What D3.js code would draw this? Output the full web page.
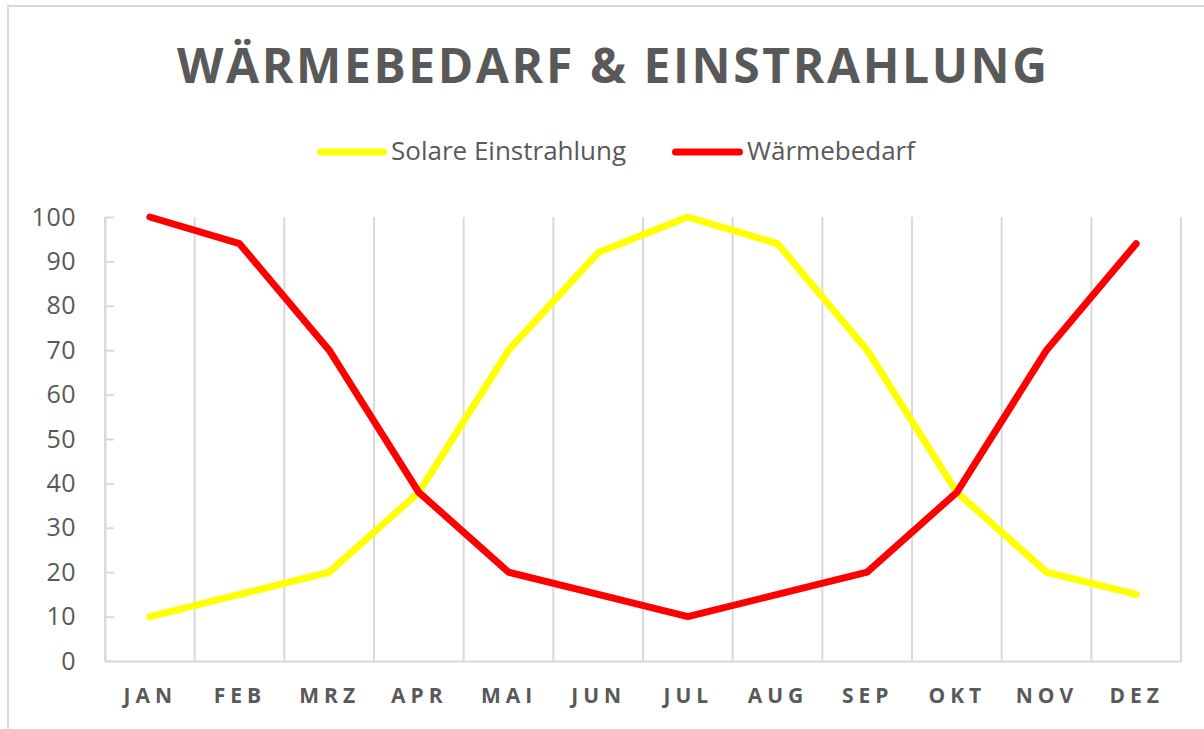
<!DOCTYPE html>
<html><head><meta charset="utf-8">
<script src="https://cdn.jsdelivr.net/npm/d3@7"></script>
<style>html,body{margin:0;padding:0;background:#fff;}svg{display:block;}</style>
</head><body>
<script>
const months = ["JAN","FEB","MRZ","APR","MAI","JUN","JUL","AUG","SEP","OKT","NOV","DEZ"];
const solar = [10,15,20,38,70,92,100,94,70,38,20,15];
const heat = [100,94,70,38,20,15,10,15,20,38,70,94];
const yTicks = [0,10,20,30,40,50,60,70,80,90,100];
const titleText = "WÄRMEBEDARF & EINSTRAHLUNG";
const seriesNames = ["Solare Einstrahlung","Wärmebedarf"];
const seriesColors = ["#ffff00","#ff0000"];

const W = 1204, H = 729;
const svg = d3.select("body").append("svg").attr("width",W).attr("height",H);
const txt = "#595959", grid = "#d9d9d9";

svg.append("rect").attr("x",8).attr("y",6).attr("width",W+20).attr("height",H+20)
  .attr("fill","#fff").attr("stroke",grid).attr("stroke-width",2);

const L = 105, R = 1181, T = 217, B = 661;
const xBand = d3.scaleBand().domain(months).range([L,R]).padding(0);
const xPt = d3.scalePoint().domain(months).range([L,R]).padding(0.5);
const y = d3.scaleLinear().domain([0,100]).range([B,T]);

// title
svg.append("text").attr("x",612).attr("y",83).attr("text-anchor","middle")
  .attr("font-family","Open Sans").attr("font-weight","bold").attr("font-size",48)
  .attr("fill",txt).attr("textLength",870).attr("lengthAdjust","spacing").text(titleText);

// vertical gridlines
const bounds = months.map(m => xBand(m)).concat([R]);
svg.append("g").selectAll("line").data(bounds).join("line")
  .attr("x1",d=>d).attr("x2",d=>d).attr("y1",T).attr("y2",B)
  .attr("stroke",grid).attr("stroke-width",2);

// y axis
const yAx = svg.append("g").attr("transform",`translate(${L},0)`)
  .call(d3.axisLeft(y).tickValues(yTicks).tickSizeInner(-9).tickSizeOuter(0).tickPadding(29));
yAx.select(".domain").attr("stroke",grid).attr("stroke-width",2);
yAx.selectAll(".tick line").attr("stroke",grid).attr("stroke-width",2);
yAx.selectAll(".tick text").attr("font-family","Open Sans").attr("font-size",25)
  .attr("fill",txt).attr("letter-spacing","0.5px");

// x axis
const xAx = svg.append("g").attr("transform",`translate(0,${B})`)
  .call(d3.axisBottom(xPt).tickSize(0).tickPadding(27));
xAx.select(".domain").attr("stroke",grid).attr("stroke-width",2);
xAx.selectAll(".tick text").attr("font-family","Open Sans").attr("font-weight","bold")
  .attr("font-size",21).attr("fill",txt).attr("letter-spacing","5px");

// lines
const line = d3.line().x((d,i)=>xPt(months[i])).y(d=>y(d));
[solar, heat].forEach((s,k)=>{
  svg.append("path").datum(s).attr("d",line).attr("fill","none")
    .attr("stroke",seriesColors[k]).attr("stroke-width",7)
    .attr("stroke-linecap","round").attr("stroke-linejoin","round");
});

// legend
const leg = [{x0:317,x1:387,tx:391},{x0:672,x1:743,tx:747}];
leg.forEach((l,k)=>{
  svg.append("line").attr("x1",l.x0+3.5).attr("x2",l.x1-3.5).attr("y1",152).attr("y2",152)
    .attr("stroke",seriesColors[k]).attr("stroke-width",7).attr("stroke-linecap","round");
  svg.append("text").attr("x",l.tx).attr("y",160).attr("font-family","Open Sans")
    .attr("font-size",26).attr("fill",txt).text(seriesNames[k]);
});
</script>
</body></html>
